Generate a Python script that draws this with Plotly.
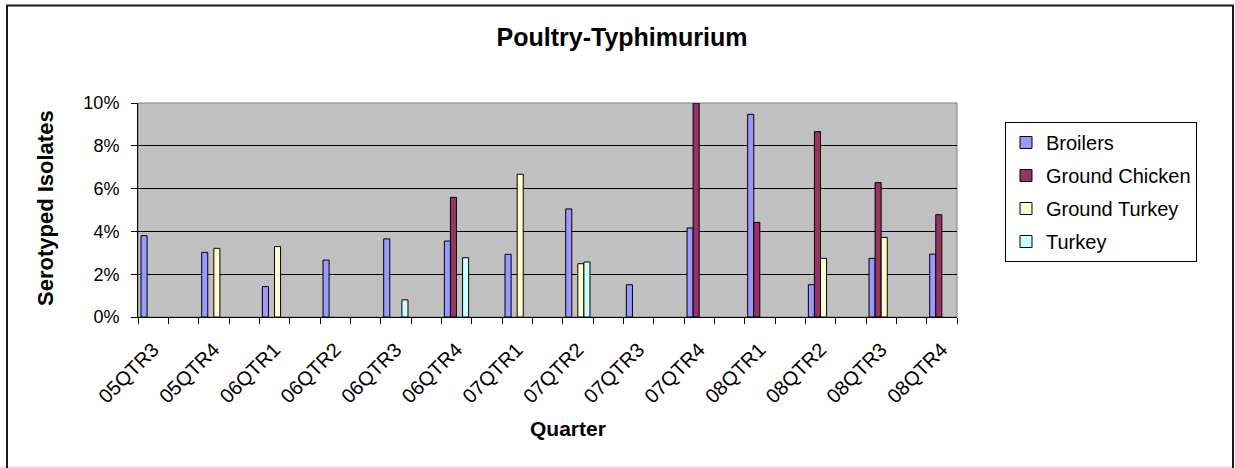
import plotly.graph_objects as go

quarters = ["05QTR3", "05QTR4", "06QTR1", "06QTR2", "06QTR3", "06QTR4", "07QTR1",
            "07QTR2", "07QTR3", "07QTR4", "08QTR1", "08QTR2", "08QTR3", "08QTR4"]
broilers = [3.80, 3.02, 1.42, 2.66, 3.65, 3.55, 2.93, 5.05, 1.51, 4.16, 9.47, 1.51, 2.74, 2.94]
ground_chicken = [None, None, None, None, None, 5.59, None, None, None, 10.0, 4.42, 8.66, 6.28, 4.78]
ground_turkey = [None, 3.21, 3.29, None, None, None, 6.67, 2.49, None, None, None, 2.74, 3.72, None]
turkey = [None, None, None, None, 0.80, 2.77, None, 2.57, None, None, None, None, None, None]

series = [("Broilers", broilers, "#9999FF"),
          ("Ground Chicken", ground_chicken, "#993366"),
          ("Ground Turkey", ground_turkey, "#FFFFCC"),
          ("Turkey", turkey, "#CCFFFF")]

# each quarter sits on every other category slot (blank slot between quarters)
xpos = [2 * i for i in range(len(quarters))]

W, H = 1235, 468
L, R, T, B = 138, 278, 103, 151
pw, ph = W - L - R, H - T - B

def px(p):
    return (p - L) / pw

def py(q):
    return (H - B - q) / ph

FONT = "Arial, Liberation Sans, sans-serif"

fig = go.Figure()
for i, (name, vals, col) in enumerate(series):
    fig.add_trace(go.Bar(
        x=xpos, y=[None if v is None else v / 100 for v in vals],
        name=name, marker=dict(color=col, line=dict(color="black", width=1)),
        legendgroup=str(i),
    ))

fig.update_layout(
    width=W, height=H,
    margin=dict(l=L, r=R, t=T, b=B),
    paper_bgcolor="white", plot_bgcolor="#C0C0C0",
    barmode="group", bargap=0.6, bargroupgap=0,
    font=dict(family=FONT, color="black"),
    title=dict(text="<b>Poultry-Typhimurium</b>", x=622 / W, xanchor="center",
               y=1 - 37 / H, yanchor="middle", yref="container",
               font=dict(size=25, family=FONT, color="black")),
    showlegend=True,
    legend=dict(x=px(1005), y=py(122), xanchor="left", yanchor="top",
                bordercolor="black", borderwidth=1, bgcolor="white",
                font=dict(size=20, family=FONT), tracegroupgap=4,
                traceorder="grouped"),
)

fig.update_xaxes(
    range=[-0.5, 26.5], tickmode="array", tickvals=xpos, ticktext=quarters,
    tickangle=-45, ticks="", showgrid=False, zeroline=False,
    showline=True, linecolor="black", linewidth=1,
    tickfont=dict(size=20, family=FONT), ticklabelstandoff=12,
    minor=dict(tickvals=[k - 0.5 for k in range(28)], ticks="outside",
               ticklen=6, tickcolor="black", tickwidth=1, showgrid=False),
)
fig.update_yaxes(
    range=[0, 0.10], dtick=0.02, tickformat=".0%", ticks="outside", ticklen=6,
    tickcolor="black", showgrid=True, gridcolor="black", gridwidth=1,
    zeroline=False, showline=True, linecolor="black", linewidth=1,
    tickfont=dict(size=18, family=FONT), ticklabelstandoff=8,
)

# plot-area frame (top/right grey) and outer chart border
fig.add_shape(type="rect", xref="paper", yref="paper", x0=0, x1=1, y0=0, y1=1,
              line=dict(color="#808080", width=1), layer="below")
fig.add_shape(type="line", xref="paper", yref="paper",
              x0=px(0), x1=px(1233), y0=py(467), y1=py(467),
              line=dict(color="#e8e8e8", width=2), layer="above")
fig.add_shape(type="rect", xref="paper", yref="paper",
              x0=px(7), x1=px(1233), y0=py(472), y1=py(5.5),
              line=dict(color="#1a1a1a", width=2), layer="above")

fig.add_annotation(text="<b>Quarter</b>", xref="paper", yref="paper",
                   x=px(568), y=py(428), showarrow=False,
                   font=dict(size=21, family=FONT), xanchor="center", yanchor="middle")
fig.add_annotation(text="<b>Serotyped Isolates</b>", xref="paper", yref="paper",
                   x=px(45), y=py(208), showarrow=False, textangle=-90,
                   font=dict(size=22, family=FONT), xanchor="center", yanchor="middle")

fig.write_html("out.html", config={"displayModeBar": False},
               post_script="document.body.style.margin='0';document.body.style.overflow='hidden';")
